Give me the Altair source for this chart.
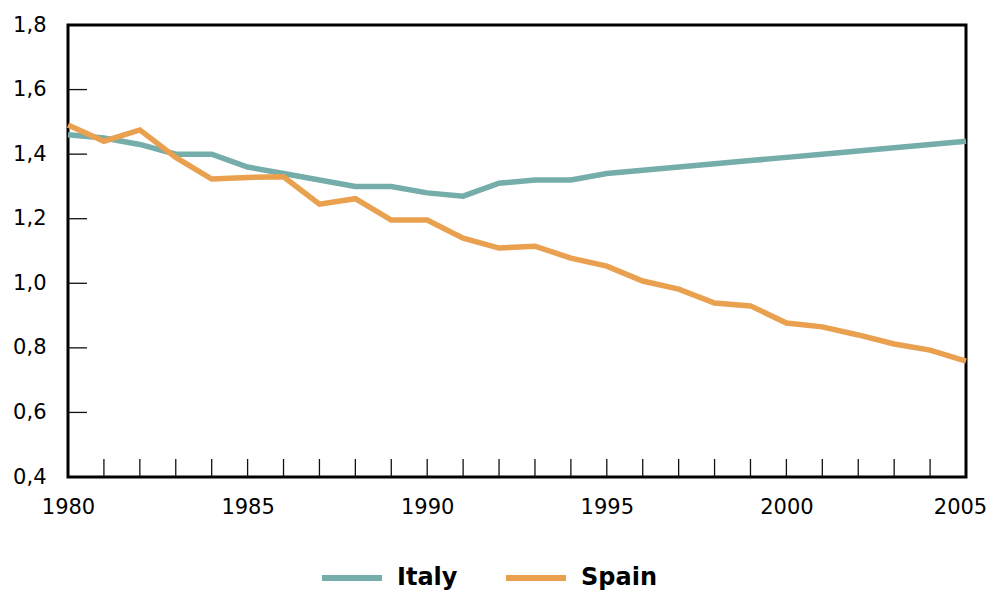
import altair as alt
import pandas as pd

years = list(range(1980, 2006))
italy = [1.46, 1.45, 1.43, 1.40, 1.40, 1.36, 1.34, 1.32, 1.30, 1.30, 1.28, 1.27, 1.31,
         1.32, 1.32, 1.34, 1.35, 1.36, 1.37, 1.38, 1.39, 1.40, 1.41, 1.42, 1.43, 1.44]
spain = [1.49, 1.44, 1.475, 1.39, 1.323, 1.328, 1.33, 1.245, 1.262, 1.196, 1.196, 1.14, 1.109,
         1.115, 1.078, 1.053, 1.007, 0.982, 0.939, 0.93, 0.877, 0.865, 0.84, 0.812, 0.793, 0.759]
countries = ["Italy", "Spain"]
colors = ["#74ADA9", "#E9A04F"]
x_labels = [1980, 1985, 1990, 1995, 2000, 2005]
y_labels = [0.4, 0.6, 0.8, 1.0, 1.2, 1.4, 1.6, 1.8]
x_minor = [1981, 1982, 1983, 1984, 1985, 1986, 1987, 1988, 1989, 1990, 1991, 1992,
           1993, 1994, 1995, 1996, 1997, 1998, 1999, 2000, 2001, 2002, 2003, 2004]
y_minor = [0.6, 0.8, 1.0, 1.2, 1.4, 1.6]

W, H = 898, 452
FONT = "DejaVu Sans"

df = pd.DataFrame({
    "year": years * 2,
    "value": italy + spain,
    "country": ["Italy"] * len(years) + ["Spain"] * len(years),
})

xscale = alt.Scale(domain=[1980, 2005], nice=False, zero=False)
yscale = alt.Scale(domain=[0.4, 1.8], nice=False, zero=False)

lines = alt.Chart(df).mark_line(strokeWidth=5.5, strokeJoin="miter").encode(
    x=alt.X("year:Q", scale=xscale,
            axis=alt.Axis(values=x_labels, format="d", title=None, ticks=False, grid=False,
                          domain=False, labelFontSize=21, labelFont=FONT, labelColor="#000",
                          labelPadding=19, labelFlush=False,
                          labelOffset={"condition": {"test": "datum.value == 2005", "value": -6},
                                       "value": 0})),
    y=alt.Y("value:Q", scale=yscale,
            axis=alt.Axis(values=y_labels, title=None, ticks=False, grid=False, domain=False,
                          labelExpr="replace(format(datum.value, '.1f'), '.', ',')",
                          labelFontSize=21, labelFont=FONT, labelColor="#000",
                          labelPadding=22)),
    color=alt.Color("country:N", scale=alt.Scale(domain=countries, range=colors),
                    legend=alt.Legend(title=None, orient="none", direction="horizontal",
                                      legendX=251, legendY=520,
                                      symbolType="stroke", symbolSize=3600,
                                      symbolStrokeWidth=6, labelFontSize=24,
                                      labelFont=FONT, labelFontWeight="bold",
                                      labelColor="#000", labelOffset=12,
                                      columnPadding=36)),
)

xt = alt.Chart(pd.DataFrame({"year": x_minor})).mark_rule(color="#111", strokeWidth=1.3).encode(
    x=alt.X("year:Q", scale=xscale),
    y=alt.value(H),
    y2=alt.value(H - 18),
)
yt = alt.Chart(pd.DataFrame({"value": y_minor})).mark_rule(color="#111", strokeWidth=1.3).encode(
    y=alt.Y("value:Q", scale=yscale),
    x=alt.value(0),
    x2=alt.value(19),
)

chart = alt.layer(xt, yt, lines).properties(
    width=W, height=H,
    autosize=alt.AutoSizeParams(type="none"),
    padding={"left": 60, "top": 17, "right": 21, "bottom": 114},
    background="white",
).configure_view(stroke="#000", strokeWidth=3)

chart.save("out.html", embed_options={"renderer": "svg", "actions": False})
